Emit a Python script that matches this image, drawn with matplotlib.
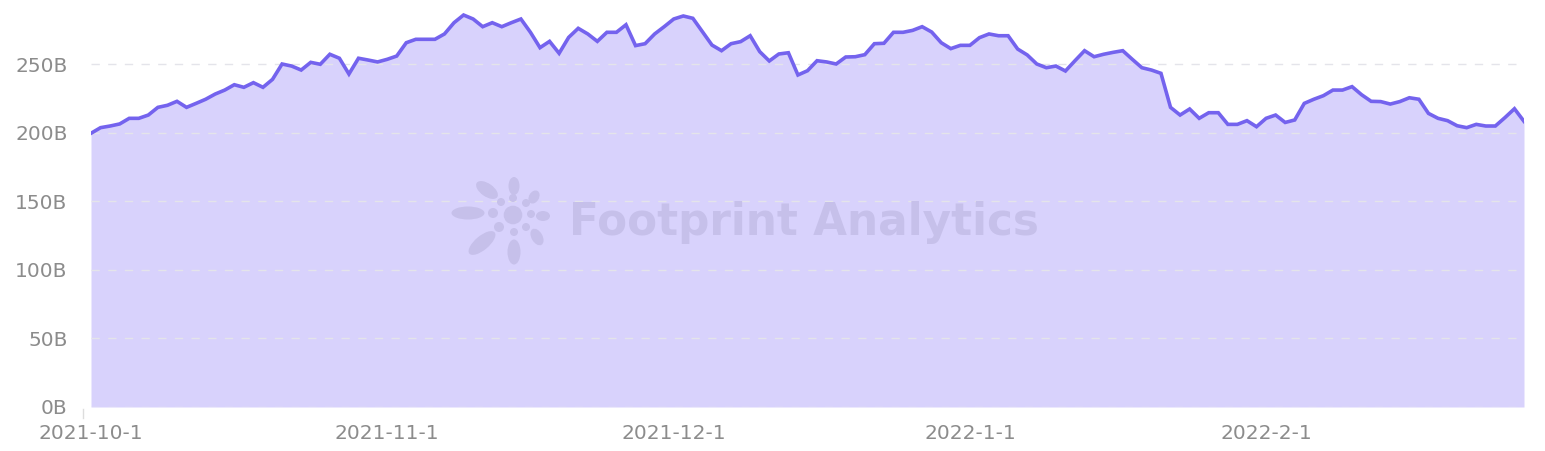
import matplotlib
matplotlib.use("Agg")
import matplotlib.pyplot as plt
from matplotlib.patches import Ellipse, Circle
import pandas as pd

start_date = "2021-10-01"
values_b = [
    199.5, 203.6, 204.8, 206.3, 210.4, 210.4, 212.8, 218.4, 219.9, 222.8,
    218.4, 221.3, 224.3, 228.1, 231.0, 234.9, 233.0, 236.4, 233.0, 238.8,
    250.0, 248.5, 245.6, 251.2, 249.8, 257.1, 254.2, 242.7, 254.2, 252.9,
    251.5, 253.4, 255.8, 265.5, 268.0, 268.0, 268.0, 271.9, 280.1, 285.7,
    282.8, 277.2, 280.1, 277.2, 280.1, 282.8, 273.1, 261.9, 266.5, 257.8,
    269.4, 276.0, 271.9, 266.5, 273.1, 273.1, 278.6, 263.4, 264.8, 271.9,
    277.2, 282.8, 285.0, 283.3, 273.6, 263.8, 259.7, 264.8, 266.3, 270.6,
    259.0, 252.2, 257.3, 258.2, 242.0, 245.1, 252.4, 251.5, 250.0, 255.1,
    255.3, 256.8, 264.8, 265.1, 273.1, 273.1, 274.5, 277.2, 273.3, 265.5,
    261.2, 263.6, 263.6, 269.2, 271.9, 270.6, 270.6, 260.9, 256.6, 250.0,
    247.3, 248.5, 244.9, 252.4, 259.7, 255.3, 257.1, 258.5, 259.7, 253.4,
    247.3, 245.6, 243.2, 218.4, 212.8, 217.2, 210.4, 214.5, 214.5, 206.0,
    206.0, 208.7, 204.3, 210.4, 212.8, 207.4, 209.2, 221.3, 224.3, 226.9,
    231.0, 231.0, 233.5, 227.6, 222.8, 222.6, 220.8, 222.6, 225.4, 224.3,
    214.0, 210.4, 208.7, 205.0, 203.6, 206.0, 204.8, 204.8, 210.9, 217.4,
    208.2,
]
dates = pd.date_range(start_date, periods=len(values_b), freq="D")
y_ticks = [0, 50, 100, 150, 200, 250]
y_tick_labels = ["0B", "50B", "100B", "150B", "200B", "250B"]
x_tick_dates = pd.to_datetime(["2021-10-01", "2021-11-01", "2021-12-01", "2022-01-01", "2022-02-01"])
x_tick_labels = ["2021-10-1", "2021-11-1", "2021-12-1", "2022-1-1", "2022-2-1"]

LINE = "#7463EE"
FILL = "#D8D2FC"
TXT = "#8C8C8C"
GRID = "#E4E4EA"

W, H = 1545, 451
fig = plt.figure(figsize=(W / 100, H / 100), dpi=100)
ax = fig.add_axes([91 / W, 44 / H, (1524 - 91) / W, 1 - 44 / H])

ax.fill_between(dates, values_b, 0, color=FILL, lw=0, zorder=1)
ax.plot(dates, values_b, color=LINE, lw=2.6, zorder=4, solid_joinstyle="miter")

ax.set_xlim(dates[0], dates[-1])
ax.set_ylim(0, 407 / 1.372)

ax.set_yticks(y_ticks)
ax.set_yticklabels(y_tick_labels)
ax.set_xticks(x_tick_dates)
ax.set_xticklabels(x_tick_labels)

for s in ax.spines.values():
    s.set_visible(False)

ax.tick_params(axis="y", length=0, pad=17, labelsize=14.5, labelcolor=TXT)
ax.tick_params(axis="x", length=0, pad=12, labelsize=14.5, labelcolor=TXT)
for lab in ax.get_xticklabels() + ax.get_yticklabels():
    lab.set_fontfamily("DejaVu Sans")

ax.grid(axis="y", color=GRID, lw=1.0, linestyle=(0, (6, 6)), zorder=2)
ax.set_axisbelow(False)
ax.grid(axis="x", visible=False)

# watermark overlay in pixel coordinates
ov = fig.add_axes([0, 0, 1, 1], facecolor="none")
ov.set_xlim(0, W)
ov.set_ylim(H, 0)
ov.axis("off")
ov.plot([83, 83], [409, 418], color="#DDDDDD", lw=1)
WM = "#C6C0EA"
ov.text(804, 223, "Footprint Analytics", ha="center", va="center",
        fontsize=31.5, fontweight="bold", color=WM, family="DejaVu Sans")
ov.add_patch(Circle((513, 215), 9.3, color=WM, lw=0))
for (cx, cy, r) in [(493, 213, 5), (501, 202, 4), (513, 198, 4), (526, 203, 4),
                    (531, 214, 4), (526, 227, 4), (514, 232, 4), (499, 227, 5)]:
    ov.add_patch(Circle((cx, cy), r, color=WM, lw=0))
for (cx, cy, w, h, a) in [(468, 213, 33, 13, 0), (487, 190, 25, 13, 35),
                          (514, 186, 11, 18, 0), (534, 197, 10, 14, 30),
                          (543, 216, 14, 10, 0), (537, 237, 11, 18, -30),
                          (514, 252, 13, 25, 0), (482, 243, 33, 14, -40)]:
    ov.add_patch(Ellipse((cx, cy), w, h, angle=a, color=WM, lw=0))

fig.savefig("out.png", dpi=100)
